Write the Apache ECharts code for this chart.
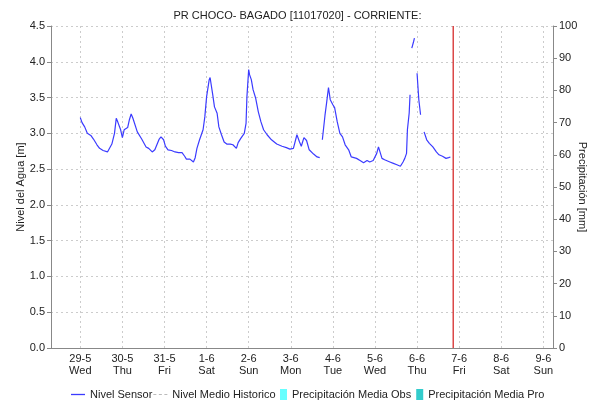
<!DOCTYPE html>
<html>
<head>
<meta charset="utf-8">
<script src="https://cdn.jsdelivr.net/npm/echarts@6/dist/echarts.min.js"></script>
<style>
html,body{margin:0;padding:0;background:#fff;}
#chart{width:595px;height:405px;}
</style>
</head>
<body>
<div id="chart"></div>
<script>
// ---- data (hours since 29-5-2024 00:00 UTC, water level in m; null = gap) ----
const titleText = 'PR CHOCO- BAGADO [11017020] - CORRIENTE:';
const hours = [0,1,2.5,3.5,4,6,7.5,9.5,11,13,15.5,18,19.5,20.5,21.5,23,24,25,27,28,29,30,31,32.5,35,37.5,39,41,42.5,43.5,45,46,47.5,48.5,50,52,54,56,58,59.5,60.5,62.5,64.5,65.5,66.5,68,69,70,71,72,73.5,74,74.5,75.5,76.5,78,79,80.5,82,83.5,85.5,87,89,90,91.5,93.5,94.5,95,96,96.5,97.5,98.5,100,101.5,103,104.5,106.5,109,112,115,117.5,119.5,121.5,123.5,125,126,127.5,129,130.5,133,135,136.5,137.3,138,139.5,140.5,141.5,142.5,144,145,146.5,148,149.5,151,153,154.5,157.5,159.5,161.5,163.5,165,167,169,170,172,173.5,174.5,176.5,178.5,180.5,182.5,184,185,186,186.5,187.5,188,188.5,189,190,190.5,191,192,192.5,193,194,195,196,197.5,199,201,203,204.5,206.5,208.5,210,211];
const nivel = [3.22,3.15,3.09,3.08,3.00,2.97,2.92,2.84,2.79,2.76,2.74,2.85,3.00,3.21,3.15,3.05,2.94,3.05,3.08,3.19,3.27,3.21,3.20,3.02,2.92,2.81,2.79,2.74,2.77,2.76,2.92,2.95,2.91,2.82,2.77,2.76,2.74,2.73,2.73,2.68,2.64,2.64,2.60,2.66,2.79,2.91,2.98,3.05,3.23,3.51,3.75,3.78,3.70,3.54,3.37,3.28,3.09,2.98,2.88,2.85,2.85,2.84,2.79,2.87,2.93,3.00,3.14,3.51,3.89,3.82,3.75,3.61,3.49,3.30,3.16,3.05,2.98,2.91,2.85,2.82,2.80,2.78,2.79,2.98,2.88,2.82,2.94,2.90,2.77,2.71,2.67,2.66,null,2.91,3.25,3.44,3.64,3.47,3.40,3.36,3.16,3.00,2.95,2.84,2.77,2.67,2.65,2.62,2.59,2.62,2.60,2.62,2.72,2.81,2.65,2.63,2.65,2.60,2.58,2.56,2.54,2.60,2.65,2.72,3.05,3.28,3.54,null,4.19,4.28,4.33,null,3.84,3.65,3.47,3.26,null,3.02,2.91,2.86,2.81,2.74,2.70,2.68,2.65,2.66,2.67];
const historico = [];
const precipObs = [];
const precipPro = [];
const dayNames = ['Sun','Mon','Tue','Wed','Thu','Fri','Sat'];
const levelTicks = {min:0, max:4.5, interval:0.5};
const precipTicks = {min:0, max:100, interval:10};
const startHour = -16.7, endHour = 269.5, nowHour = 212.6;

const base = Date.UTC(2024,4,29);
const H = 3600000;
const sensorData = hours.map((h,i)=>[base + h*H, nivel[i]]);
const nowTime = base + nowHour*H;

const font = "'Liberation Sans', Arial, sans-serif";
const chart = echarts.init(document.getElementById('chart'));
chart.setOption({
  useUTC: true,
  animation: false,
  backgroundColor: '#fff',
  textStyle: {fontFamily: font},
  title: {
    text: titleText, left: 'center', top: 5,
    textStyle: {fontSize: 11, fontWeight: 'normal', color: '#222', fontFamily: font}
  },
  legend: [{
    left: 71, top: 389, padding: 0, itemWidth: 14, itemHeight: 1.3, itemGap: 1,
    textStyle: {fontSize: 11, color: '#222', fontFamily: font},
    data: [
      {name: 'Nivel Sensor', icon: 'rect'},
      {name: 'Nivel Medio Historico', icon: 'path://M0,0h3v1h-3z M5.5,0h3v1h-3z M11,0h3v1h-3z'}
    ]
  },{
    left: 280, top: 389, padding: 0, itemWidth: 7, itemHeight: 11, itemGap: 5, icon: 'rect',
    textStyle: {fontSize: 11, color: '#222', fontFamily: font},
    data: ['Precipitación Media Obs','Precipitación Media Pro']
  }],
  grid: {left: 51, right: 42, top: 26, bottom: 57, containLabel: false, outerBoundsMode: 'none'},
  xAxis: [{
    type: 'time',
    min: base + startHour*H, max: base + endHour*H,
    splitNumber: 12,
    axisLine: {show: true, lineStyle: {color: '#555', type: 'dotted', width: 1}},
    axisTick: {show: false},
    axisLabel: {
      fontSize: 11, color: '#222', fontFamily: font, margin: 5, lineHeight: 12,
      fontWeight: 'normal', showMinLabel: false, showMaxLabel: false,
      formatter: function(v){
        const d = new Date(v);
        return d.getUTCDate() + '-' + (d.getUTCMonth()+1) + '\n' + dayNames[d.getUTCDay()];
      }
    },
    splitLine: {show: true, lineStyle: {color: '#ccc', type: [2,3], width: 1}}
  },{
    type: 'value', position: 'top', min: 0, max: 1,
    axisLine: {show: true, lineStyle: {color: '#888'}},
    axisTick: {show: false}, axisLabel: {show: false}, splitLine: {show: false}
  }],
  yAxis: [{
    type: 'value', min: levelTicks.min, max: levelTicks.max, interval: levelTicks.interval,
    name: 'Nivel del Agua [m]', nameLocation: 'middle', nameGap: 25, nameRotate: 90,
    nameMoveOverlap: false,
    nameTextStyle: {fontSize: 11, color: '#222', fontFamily: font},
    axisLine: {show: true, lineStyle: {color: '#888'}},
    axisTick: {show: true, length: 4, lineStyle: {color: '#888'}},
    axisLabel: {fontSize: 11, color: '#222', margin: 6, fontFamily: font,
      formatter: v => v.toFixed(1)},
    splitLine: {show: true, lineStyle: {color: '#ccc', type: [2,3], width: 1}}
  },{
    type: 'value', position: 'right', min: precipTicks.min, max: precipTicks.max, interval: precipTicks.interval,
    name: 'Precipitación [mm]', nameLocation: 'middle', nameGap: 24, nameRotate: -90,
    nameMoveOverlap: false,
    nameTextStyle: {fontSize: 11, color: '#222', fontFamily: font},
    axisLine: {show: true, lineStyle: {color: '#888'}},
    axisTick: {show: true, length: 4, lineStyle: {color: '#888'}},
    axisLabel: {fontSize: 11, color: '#222', margin: 6, fontFamily: font},
    splitLine: {show: false}
  }],
  series: [{
    name: 'Nivel Sensor', type: 'line', data: sensorData,
    showSymbol: false, symbol: 'none', connectNulls: false,
    lineStyle: {color: '#3b3bff', width: 1.2}, itemStyle: {color: '#3b3bff'}
  },{
    name: 'Nivel Medio Historico', type: 'line', data: historico,
    showSymbol: false, symbol: 'none',
    lineStyle: {color: '#bbb', type: [3,3], width: 1.2}, itemStyle: {color: '#bbb'}
  },{
    name: 'Precipitación Media Obs', type: 'bar', xAxisIndex: 1, yAxisIndex: 1, data: precipObs,
    itemStyle: {color: '#66ffff'}
  },{
    name: 'Precipitación Media Pro', type: 'bar', xAxisIndex: 1, yAxisIndex: 1, data: precipPro,
    itemStyle: {color: '#33cccc'}
  },{
    name: 'Ahora', type: 'line', data: [[nowTime, levelTicks.min],[nowTime, levelTicks.max]],
    showSymbol: false, symbol: 'none', silent: true,
    lineStyle: {color: '#d21a1a', width: 1.2}, itemStyle: {color: '#d21a1a'}, z: 5
  }]
});
</script>
</body>
</html>
